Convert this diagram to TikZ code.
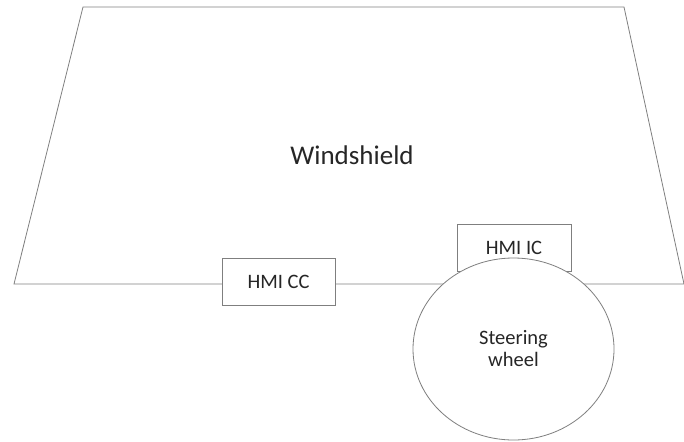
\documentclass[tikz,border=0pt]{standalone}
\usepackage{fontspec}
\setmainfont{Carlito}
\usetikzlibrary{positioning, shapes.geometric}
\definecolor{edge}{HTML}{7F7F7F}
\definecolor{ink}{HTML}{262626}
\tikzstyle{hmi}=[shape=rectangle, draw=edge, fill=white, minimum width=113pt, minimum height=47pt, inner sep=0, text=ink, font=\fontsize{20.5}{24}\selectfont]
\tikzstyle{wheel}=[shape=ellipse, draw=edge, fill=white, minimum width=201pt, minimum height=182pt, inner sep=0, align=center, text=ink, font=\fontsize{20.5}{22}\selectfont]

\begin{document}
\begin{tikzpicture}[x=1pt, y=-1pt, line width=0.8pt]
\useasboundingbox (0,0) rectangle (684,441);
\coordinate (bl) at (14,284);
\coordinate (tl) at (83,7);
\coordinate (tr) at (624,7);
\coordinate (br) at (684,284);
\draw[edge] (br)--(tr)--(tl)--(bl)--(br);
\node at (352,155)[text=ink, font=\fontsize{27}{30}\selectfont](ws){Windshield};
\node at (278.5,282)[hmi](cc){HMI CC};
\node at (514,248)[hmi, minimum width=114pt](ic){HMI IC};
\node at (513.5,349)[wheel](sw){Steering\\wheel};
\end{tikzpicture}
\end{document}
